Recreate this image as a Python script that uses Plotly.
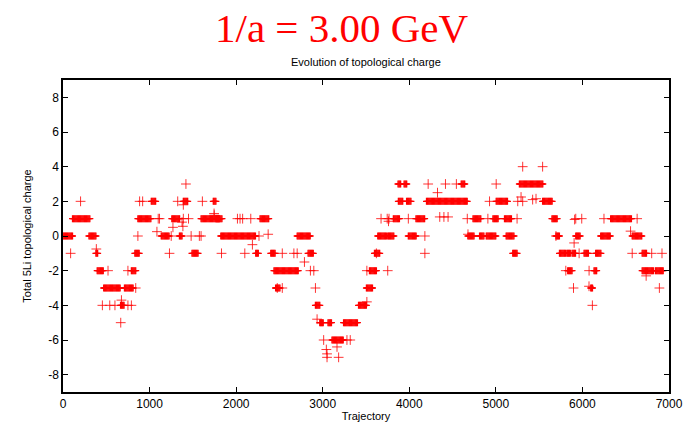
import numpy as np
import plotly.graph_objects as go

# Plateaus of the topological charge: (first trajectory, last trajectory, charge)
run_start = [0, 110, 300, 380, 395, 470, 665, 710, 790, 830, 865, 1020, 1135, 1257, 1345,
             1390, 1490, 1595, 1736, 1766, 1823, 2226, 2276, 2400, 2437, 2456, 2705, 2831,
             2916, 2966, 3061, 3107, 3241, 3414, 3505, 3540, 3598, 3636, 3751, 3816, 3874,
             3969, 3870, 3940, 3989, 4077, 4199, 4600, 4678, 4736, 4812, 4889, 4966, 5004,
             5100, 5119, 5195, 5272, 5540, 5648, 5694, 5735, 5820, 5880, 5830, 5923, 6019,
             6096, 6134, 6153, 6211, 6326, 6575, 6690, 6690, 6843]
run_end = [110, 310, 380, 400, 470, 665, 710, 815, 845, 885, 1020, 1077, 1230, 1352, 1380,
           1440, 1567, 1805, 1774, 1843, 2226, 2264, 2380, 2456, 2724, 2513, 2858, 2897,
           2966, 3011, 3107, 3241, 3402, 3505, 3580, 3625, 3663, 3739, 3828, 3893, 3931,
           4019, 3900, 3975, 4084, 4180, 4678, 4640, 4755, 4831, 4870, 5004, 5031, 5138,
           5180, 5215, 5253, 5548, 5655, 5713, 5739, 5810, 5865, 5920, 5880, 5980, 6077,
           6123, 6172, 6222, 6326, 6575, 6690, 6747, 6824, 6939]
run_value = [0, 1, 0, -1, -2, -3, -4, -3, -2, -1, 1, 2, 0, 1, 0,
             2, -1, 1, 2, 1, 0, -1, 1, -1, -2, -3, 0, -1,
             -4, -5, -5, -6, -5, -4, -3, -2, -1, 0, 0, 1, 2,
             2, 3, 3, 0, 1, 2, 3, 0, 1, 0, 0, 1, 2,
             1, 0, -1, 3, 2, 1, 0, -1, -1, -1, -2, 0, -1,
             -3, -2, -1, 0, 1, 0, -1, -2, -2]

# Isolated measurements
single_x = [88, 203, 385, 520, 840, 455, 540, 600, 750, 790, 675, 667, 750, 865, 885, 920,
            1100, 1115, 1085, 1250, 1480, 1575, 1595, 1230, 1390, 1450, 1325, 1610, 1420,
            1270, 1385, 1375, 1390, 1745, 1747, 2015, 2045, 2075, 2169, 2264, 2370, 2188,
            1831, 2100, 2533, 2667, 2705, 2789, 2858, 2897, 2475, 2533, 2916, 2935, 3011,
            3280, 3318, 3042, 3050, 3165, 3050, 3184, 3510, 3510, 3620, 3751, 3674, 3745,
            3766, 3760, 3989, 4180, 4180, 4352, 4400, 4448, 4670, 5245, 4927, 5253, 5291,
            4326, 4218, 4418, 4544, 5004, 5310, 4678, 4908, 5540, 5310, 5425, 5464, 5923,
            5992, 6249, 6632, 5910, 5694, 6556, 5904, 5962, 6575, 6800, 6919, 5808, 6077,
            6736, 5897, 6889, 6115, 6076]
single_y = [-1, 2, -0.75, -2, -3, -4, -4, -4, -4, -4, -3.7, -5, -2, 0, 2, 2,
            1, 1, 0.25, 0, 0, 0, 0, -1, 1, 1, 2, 2, 3,
            0.5, 0.56, 0.8, 1.8, 1.3, 1.2, 1, 1, 1, 1, 0, 0.1, -0.5,
            -1, -1, -1, -1, -1, -1.5, -2, -2, -3, -3, -3, -4.8, -6,
            -6, -6, -6.55, -6.8, -6.4, -7, -7, -3.8, -2, -1, -2, 1, 1,
            1, 0.85, 1, -1, 0, 1.1, 1.1, 1.1, 1, 1, 2, 2, 2.25,
            2.5, 3, 3, 3, 3, 4, 0.1, 1, 4, 2, 2.1, 2.15, 1,
            1, 1, 1, 0.95, 0, 0.28, -0.4, -1, -1, -1, -1, -2, -2,
            -2.3, -3, -3, -4, -2.9]

x_ticks = [0, 1000, 2000, 3000, 4000, 5000, 6000, 7000]
y_ticks = [-8, -6, -4, -2, 0, 2, 4, 6, 8]

sample_every = 10  # one measurement every 10 trajectories on a plateau
rx, ry = [], []
for s, e, v in zip(run_start, run_end, run_value):
    pts = np.arange(s, e + 1, sample_every)
    rx.extend(pts.tolist())
    ry.extend([v] * len(pts))

fig = go.Figure()
fig.add_trace(go.Scatter(
    x=rx, y=ry, mode="markers",
    marker=dict(symbol="cross-thin", size=5, color="red",
                line=dict(color="red", width=1.3)),
    showlegend=False))
fig.add_trace(go.Scatter(
    x=single_x, y=single_y, mode="markers",
    marker=dict(symbol="cross-thin", size=7, color="red",
                line=dict(color="rgba(255,0,0,0.8)", width=1)),
    showlegend=False))

axis_common = dict(showgrid=False, zeroline=False, showline=True, linecolor="black",
                   linewidth=1.5, mirror="ticks", ticks="inside", ticklen=5,
                   tickcolor="black", tickfont=dict(family="Liberation Sans", size=12,
                                                    color="black"))
fig.update_xaxes(range=[0, 7000], tickvals=x_ticks, ticktext=[str(t) for t in x_ticks],
                 title=dict(text="Trajectory", font=dict(family="Liberation Sans", size=11,
                                                         color="black"), standoff=2),
                 **axis_common)
fig.update_yaxes(range=[-9, 9], tickvals=y_ticks, ticktext=[str(t) for t in y_ticks],
                 title=dict(text="Total 5Li topological charge",
                            font=dict(family="Liberation Sans", size=11, color="black"),
                            standoff=14),
                 **axis_common)

fig.update_layout(
    width=695, height=433,
    margin=dict(l=63, r=23, t=80, b=33),
    plot_bgcolor="white", paper_bgcolor="white",
    annotations=[
        dict(text="1/a = 3.00 GeV", xref="paper", yref="paper", x=(343 - 63) / 609,
             y=1 + 28 / 320, xanchor="center", yanchor="bottom", showarrow=False,
             font=dict(family="Liberation Serif", size=41, color="red")),
        dict(text="Evolution of topological charge", xref="paper", yref="paper",
             x=0.5, y=1 + 10 / 320, xanchor="center", yanchor="bottom", showarrow=False,
             font=dict(family="Liberation Sans", size=11, color="black")),
    ],
)

fig.write_html("out.html")
